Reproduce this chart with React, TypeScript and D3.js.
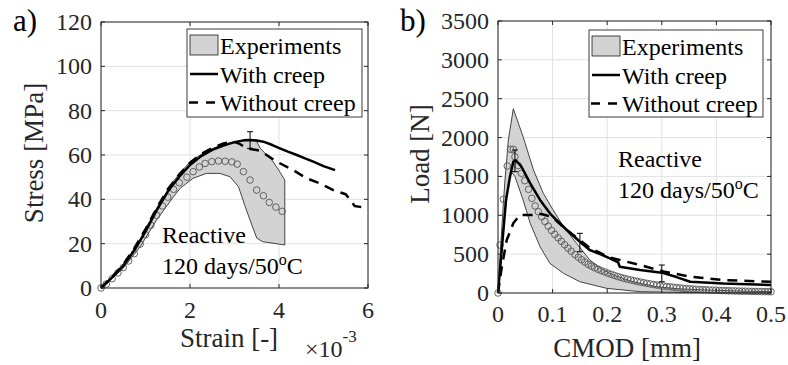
import React from "react";
import * as d3 from "d3";

const FONT = "'Liberation Serif', 'Times New Roman', serif";

type Pt = [number, number];

// ---- Panel a) stress vs strain (strain in units of 1e-3) ----
const strainTicks = [0, 2, 4, 6];
const stressTicks = [0, 20, 40, 60, 80, 100, 120];

const strainBandUpper: Pt[] = [
  [0, 0], [0.25, 4.6], [0.5, 9.8], [0.88, 21.8], [1.25, 36.0], [1.63, 48.3], [2.0, 57.0],
  [2.37, 61.8], [2.75, 64.8], [3.12, 66.3], [3.42, 66.8], [3.5, 66.0], [3.58, 63.0],
  [3.7, 60.5], [3.85, 57.5], [4.0, 53.0], [4.13, 48.7],
];
const strainBandLower: Pt[] = [
  [0, 0], [0.05, 0.6], [0.5, 8.9], [0.88, 18.6], [1.25, 30.7], [1.63, 41.2], [1.78, 45.0],
  [2.07, 49.5], [2.37, 51.7], [2.67, 51.7], [2.9, 50.2], [3.09, 45.7], [3.24, 36.7],
  [3.39, 28.4], [3.5, 22.5], [3.63, 20.9], [4.13, 19.4],
];
const strainMean: Pt[] = [
  [0, 0], [0.12, 1.8], [0.25, 4.2], [0.38, 6.8], [0.5, 9.2], [0.62, 12.2], [0.75, 15.5],
  [0.88, 19.8], [1.0, 24.0], [1.12, 28.3], [1.25, 32.8], [1.38, 37.0], [1.5, 41.0],
  [1.63, 44.5], [1.76, 47.5], [1.93, 50.0], [2.07, 52.5], [2.21, 54.6], [2.34, 56.2],
  [2.49, 57.0], [2.64, 57.3], [2.79, 57.2], [2.94, 56.9], [3.06, 55.9], [3.2, 52.5],
  [3.35, 48.7], [3.5, 44.2], [3.65, 41.6], [3.78, 38.6], [3.93, 36.5], [4.07, 34.6],
];
const strainWithCreep: Pt[] = [
  [0, 0], [0.25, 4.8], [0.5, 10.0], [0.75, 17.0], [1.0, 25.5], [1.25, 35.0], [1.5, 43.5],
  [1.75, 50.0], [2.0, 55.5], [2.25, 59.5], [2.5, 62.3], [2.75, 64.3], [3.0, 65.8],
  [3.2, 66.6], [3.35, 66.8], [3.5, 66.5], [3.65, 66.0], [3.85, 64.5], [4.02, 63.0],
  [4.2, 61.5], [4.4, 60.0], [4.6, 58.4], [4.77, 57.0], [5.0, 55.0], [5.26, 53.2],
];
const strainWithoutCreep: Pt[] = [
  [0, 0], [0.25, 5.0], [0.5, 10.6], [0.75, 18.0], [1.0, 26.5], [1.25, 36.0], [1.5, 44.5],
  [1.75, 51.0], [2.0, 56.5], [2.25, 60.5], [2.5, 63.2], [2.75, 65.2], [2.97, 66.0],
  [3.12, 65.0], [3.27, 63.0], [3.57, 62.0], [3.95, 57.0], [4.32, 53.2], [4.62, 49.5],
  [4.92, 47.2], [5.22, 44.2], [5.5, 42.3], [5.6, 39.7], [5.7, 37.0], [5.82, 36.6], [5.93, 36.4],
];
// [x, low, high]
const strainErrorBars: [number, number, number][] = [[3.35, 63.0, 70.5]];

// ---- Panel b) load vs CMOD ----
const cmodTicks = [0, 0.1, 0.2, 0.3, 0.4, 0.5];
const loadTicks = [0, 500, 1000, 1500, 2000, 2500, 3000, 3500];

const cmodBandUpper: Pt[] = [
  [0, 0], [0.004, 500], [0.0098, 1150], [0.0128, 1454], [0.019, 1969], [0.028, 2370],
  [0.046, 2011], [0.065, 1583], [0.083, 1283], [0.101, 1068], [0.12, 853], [0.144, 639],
  [0.168, 425], [0.193, 296], [0.211, 232], [0.248, 145], [0.29, 81], [0.33, 55],
  [0.382, 39], [0.44, 26], [0.5, 17],
];
const cmodBandLower: Pt[] = [
  [0, 0], [0.008, 650], [0.016, 1250], [0.024, 1560], [0.031, 1500], [0.046, 1197],
  [0.059, 897], [0.077, 596], [0.095, 382], [0.12, 253], [0.15, 145], [0.199, 60],
  [0.26, 17], [0.35, 6], [0.5, 2],
];
const cmodMean: Pt[] = [
  [0, 0], [0.0037, 617], [0.0098, 1206], [0.017, 1634], [0.023, 1849], [0.028, 1849],
  [0.031, 1754], [0.037, 1640], [0.043, 1540], [0.049, 1445], [0.056, 1334], [0.062, 1218],
  [0.068, 1120], [0.074, 1046], [0.08, 982], [0.086, 920], [0.092, 860], [0.098, 805],
  [0.104, 755], [0.11, 710], [0.116, 665], [0.122, 620], [0.128, 578], [0.134, 538],
  [0.141, 495], [0.147, 460], [0.153, 428], [0.159, 398], [0.165, 370], [0.171, 346],
  [0.177, 325], [0.183, 306], [0.189, 289], [0.195, 272], [0.201, 256], [0.207, 241],
  [0.213, 226], [0.219, 212], [0.225, 200], [0.231, 189], [0.237, 178], [0.243, 168],
  [0.249, 158], [0.255, 149], [0.261, 140], [0.267, 132], [0.273, 124], [0.279, 116],
  [0.285, 109], [0.291, 102], [0.297, 96], [0.303, 90], [0.309, 84], [0.315, 79],
  [0.321, 74], [0.327, 69], [0.333, 65], [0.339, 61], [0.345, 57], [0.351, 54],
  [0.357, 51], [0.363, 48], [0.369, 45], [0.375, 43], [0.381, 41], [0.387, 39],
  [0.393, 37], [0.399, 35], [0.405, 33], [0.411, 31], [0.417, 30], [0.423, 28],
  [0.429, 27], [0.435, 26], [0.441, 25], [0.447, 24], [0.453, 23], [0.459, 22],
  [0.465, 21], [0.471, 20], [0.477, 19], [0.483, 18], [0.489, 17], [0.495, 17], [0.5, 16],
];
const cmodWithCreep: Pt[] = [
  [0, 0], [0.0147, 1197], [0.022, 1500], [0.028, 1690], [0.033, 1705], [0.043, 1625],
  [0.059, 1411], [0.077, 1197], [0.095, 1025], [0.107, 939], [0.126, 811], [0.15, 660],
  [0.168, 553], [0.187, 500], [0.205, 446], [0.22, 395], [0.223, 338], [0.26, 296],
  [0.3, 262], [0.327, 205], [0.352, 145], [0.413, 122], [0.5, 103],
];
const cmodWithoutCreep: Pt[] = [
  [0, 0], [0.007, 338], [0.016, 682], [0.028, 897], [0.04, 1004], [0.062, 1004],
  [0.071, 1025], [0.089, 1000], [0.107, 930], [0.126, 811], [0.15, 680], [0.168, 580],
  [0.187, 515], [0.205, 455], [0.223, 425], [0.26, 360], [0.303, 278], [0.352, 210],
  [0.413, 167], [0.5, 145],
];
const cmodErrorBars: [number, number, number][] = [
  [0.031, 1561, 1840], [0.15, 531, 768], [0.3, 145, 360],
];

const legendLabels = ["Experiments", "With creep", "Without creep"];

interface PanelProps {
  tag: string;
  tagX: number;
  box: { x0: number; x1: number; y0: number; y1: number };
  xDomain: [number, number];
  yDomain: [number, number];
  xTicks: number[];
  yTicks: number[];
  xLabel: string;
  xLabelX: number;
  xLabelY: number;
  yLabel: string;
  yLabelX: number;
  yLabelY: number;
  tickLabelY: number;
  upper: Pt[];
  lower: Pt[];
  mean: Pt[];
  withCreep: Pt[];
  withoutCreep: Pt[];
  errorBars: [number, number, number][];
  legend: { x: number; y: number; w: number; h: number };
  note: { x: number; y: number };
  dash: string;
  exponent?: boolean;
}

function Panel(p: PanelProps) {
  const { x0, x1, y0, y1 } = p.box;
  const x = d3.scaleLinear().domain(p.xDomain).range([x0, x1]);
  const y = d3.scaleLinear().domain(p.yDomain).range([y1, y0]);
  const line = d3
    .line<Pt>()
    .x((d) => x(d[0]))
    .y((d) => y(d[1]));
  const bandPath = line(p.upper.concat(p.lower.slice().reverse())) + "Z";
  const tickLen = 4;
  const axisColor = "#262626";
  const lg = p.legend;
  const rowY = [lg.y + 25, lg.y + 53.5, lg.y + 82];
  return (
    <g>
      <text x={p.tagX} y={31} fontSize={31} fontFamily={FONT} fill="#000">
        {p.tag}
      </text>
      {/* plot background and grid */}
      <rect x={x0} y={y0} width={x1 - x0} height={y1 - y0} fill="#fff" />
      {p.xTicks.map((t) => (
        <line key={"gx" + t} x1={x(t)} x2={x(t)} y1={y0} y2={y1} stroke="#e2e2e2" strokeWidth={1} />
      ))}
      {p.yTicks.map((t) => (
        <line key={"gy" + t} x1={x0} x2={x1} y1={y(t)} y2={y(t)} stroke="#e2e2e2" strokeWidth={1} />
      ))}
      {/* experimental envelope */}
      <path d={bandPath} fill="#d3d3d3" stroke="#1a1a1a" strokeWidth={0.8} />
      {/* experimental mean */}
      {p.mean.map((d, i) => (
        <circle key={"m" + i} cx={x(d[0])} cy={y(d[1])} r={3.3} fill="none" stroke="#555" strokeWidth={0.9} />
      ))}
      {/* simulations */}
      <path d={line(p.withoutCreep) || ""} fill="none" stroke="#000" strokeWidth={2.5} strokeDasharray={p.dash} strokeLinejoin="round" />
      <path d={line(p.withCreep) || ""} fill="none" stroke="#000" strokeWidth={2.5} strokeLinejoin="round" />
      {p.errorBars.map(([ex, lo, hi], i) => (
        <g key={"e" + i} stroke="#000" strokeWidth={1}>
          <line x1={x(ex)} x2={x(ex)} y1={y(lo)} y2={y(hi)} />
          <line x1={x(ex) - 3} x2={x(ex) + 3} y1={y(lo)} y2={y(lo)} />
          <line x1={x(ex) - 3} x2={x(ex) + 3} y1={y(hi)} y2={y(hi)} />
        </g>
      ))}
      {/* axes box with inward ticks */}
      <rect x={x0} y={y0} width={x1 - x0} height={y1 - y0} fill="none" stroke={axisColor} strokeWidth={1} />
      {p.xTicks.map((t) => (
        <g key={"tx" + t} stroke={axisColor} strokeWidth={1}>
          <line x1={x(t)} x2={x(t)} y1={y1} y2={y1 - tickLen} />
          <line x1={x(t)} x2={x(t)} y1={y0} y2={y0 + tickLen} />
        </g>
      ))}
      {p.yTicks.map((t) => (
        <g key={"ty" + t} stroke={axisColor} strokeWidth={1}>
          <line x1={x0} x2={x0 + tickLen} y1={y(t)} y2={y(t)} />
          <line x1={x1} x2={x1 - tickLen} y1={y(t)} y2={y(t)} />
        </g>
      ))}
      {p.xTicks.map((t) => (
        <text key={"lx" + t} x={x(t)} y={p.tickLabelY} textAnchor="middle" fontSize={24} fontFamily={FONT} fill="#262626">
          {String(t)}
        </text>
      ))}
      {p.yTicks.map((t) => (
        <text key={"ly" + t} x={x0 - 9} y={y(t) + 8} textAnchor="end" fontSize={24} fontFamily={FONT} fill="#262626">
          {String(t)}
        </text>
      ))}
      <text x={p.xLabelX} y={p.xLabelY} textAnchor="middle" fontSize={27} fontFamily={FONT} fill="#262626">
        {p.xLabel}
      </text>
      {p.exponent && (
        <text x={305} y={357} fontSize={24} fontFamily={FONT} fill="#262626">
          {"\u00d710"}
          <tspan dy={-15} fontSize={17}>
            -3
          </tspan>
        </text>
      )}
      <text
        transform={`translate(${p.yLabelX},${p.yLabelY}) rotate(-90)`}
        textAnchor="middle"
        fontSize={27}
        fontFamily={FONT}
        fill="#262626"
      >
        {p.yLabel}
      </text>
      {/* legend */}
      <rect x={lg.x} y={lg.y} width={lg.w} height={lg.h} fill="#fff" stroke="#262626" strokeWidth={0.9} />
      <rect x={lg.x + 3} y={lg.y + 6} width={28} height={20} fill="#d3d3d3" stroke="#1a1a1a" strokeWidth={0.8} />
      <line x1={lg.x + 3} x2={lg.x + 31} y1={rowY[1] - 8.5} y2={rowY[1] - 8.5} stroke="#000" strokeWidth={2.5} />
      <line x1={lg.x + 2} x2={lg.x + 30} y1={rowY[2] - 8.5} y2={rowY[2] - 8.5} stroke="#000" strokeWidth={2.5} strokeDasharray="9,8" />
      {legendLabels.map((s, i) => (
        <text key={s} x={lg.x + 33} y={rowY[i]} fontSize={24} fontFamily={FONT} fill="#000">
          {s}
        </text>
      ))}
      {/* specimen note */}
      <text x={p.note.x} y={p.note.y} fontSize={24} fontFamily={FONT} fill="#000">
        Reactive
      </text>
      <text x={p.note.x} y={p.note.y + 31} fontSize={24} fontFamily={FONT} fill="#000">
        120 days/50
        <tspan dy={-9} fontSize={16}>
          o
        </tspan>
        <tspan dy={9}>C</tspan>
      </text>
    </g>
  );
}

export default function App() {
  return (
    <svg width={788} height={365} style={{ position: "absolute", left: 0, top: 0, background: "#fff" }}>
      <Panel
        tag="a)"
        tagX={13}
        box={{ x0: 101, x1: 368, y0: 22, y1: 288 }}
        xDomain={[0, 6]}
        yDomain={[0, 120]}
        xTicks={strainTicks}
        yTicks={stressTicks}
        xLabel="Strain [-]"
        xLabelX={229}
        xLabelY={347}
        yLabel="Stress [MPa]"
        yLabelX={43}
        yLabelY={153}
        tickLabelY={318}
        upper={strainBandUpper}
        lower={strainBandLower}
        mean={strainMean}
        withCreep={strainWithCreep}
        withoutCreep={strainWithoutCreep}
        errorBars={strainErrorBars}
        legend={{ x: 187, y: 29, w: 175, h: 88 }}
        note={{ x: 162, y: 243 }}
        dash="10,7"
        exponent
      />
      <Panel
        tag="b)"
        tagX={400}
        box={{ x0: 498, x1: 771, y0: 21, y1: 293 }}
        xDomain={[0, 0.5]}
        yDomain={[0, 3500]}
        xTicks={cmodTicks}
        yTicks={loadTicks}
        xLabel="CMOD [mm]"
        xLabelX={627}
        xLabelY={357}
        yLabel="Load [N]"
        yLabelX={429}
        yLabelY={154}
        tickLabelY={322}
        upper={cmodBandUpper}
        lower={cmodBandLower}
        mean={cmodMean}
        withCreep={cmodWithCreep}
        withoutCreep={cmodWithoutCreep}
        errorBars={cmodErrorBars}
        legend={{ x: 589, y: 30, w: 174, h: 87 }}
        note={{ x: 618, y: 167 }}
        dash="10,7"
      />
    </svg>
  );
}
